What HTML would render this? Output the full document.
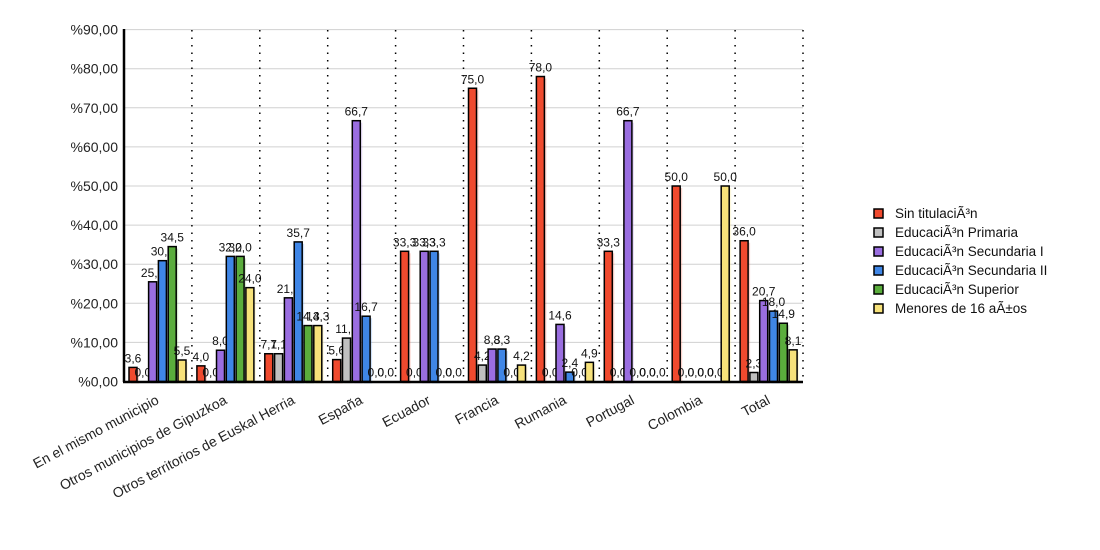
<!DOCTYPE html>
<html><head><meta charset="utf-8"><style>
html,body{margin:0;padding:0;background:#fff;}
svg{display:block;font-family:"Liberation Sans",Arial,sans-serif;}
</style></head><body>
<svg id="c" width="1100" height="550" viewBox="0 0 1100 550" xmlns="http://www.w3.org/2000/svg"></svg>
<script>
var s=document.getElementById('c'),h='';
function Y(v){return 381.5-v*3.91;}
for(var i=0;i<=9;i++){var y=Y(i*10);
 h+='<line x1="124" x2="803" y1="'+y+'" y2="'+y+'" stroke="#d0d0d0" stroke-width="1"/>';
 h+='<text x="118" y="'+(y+5)+'" text-anchor="end" font-size="14" fill="#222">%'+(i*10)+',00</text>';}
var names=["En el mismo municipio","Otros municipios de Gipuzkoa","Otros territorios de Euskal Herria","España","Ecuador","Francia","Rumania","Portugal","Colombia","Total"];
var d=[[3.6,0,25.5,30.9,34.5,5.5],[4.0,0,8.0,32.0,32.0,24.0],[7.1,7.1,21.4,35.7,14.3,14.3],[5.6,11.1,66.7,16.7,0,0],[33.3,0,33.3,33.3,0,0],[75.0,4.2,8.3,8.3,0,4.2],[78.0,0,14.6,2.4,0,4.9],[33.3,0,66.7,0,0,0],[50.0,0,0,0,0,50.0],[36.0,2.3,20.7,18.0,14.9,8.1]];
var col=["#f04a2e","#c0c0c0","#9a6ee0","#3f86e6","#5aad3c","#f7e27a"];
var gw=67.9;
for(var g=0;g<10;g++){var gs=124+g*gw;
 var dx=(gs+gw).toFixed(1);
 h+='<line x1="'+dx+'" x2="'+dx+'" y1="30" y2="381" stroke="#000" stroke-width="1.5" stroke-dasharray="1.5,6"/>';
 for(var k=0;k<6;k++){var v=d[g][k],x=gs+5+k*9.8;
  if(v>0){var y=Y(v);
   h+='<rect x="'+(x+2)+'" y="'+(y+2)+'" width="8" height="'+(381.5-y)+'" fill="'+col[k]+'" opacity="0.25"/>';
   h+='<rect x="'+x+'" y="'+y+'" width="8" height="'+(381.5-y)+'" fill="'+col[k]+'" stroke="#000" stroke-width="1.5"/>';}
  h+='<text x="'+(x+4)+'" y="'+(Y(v)-5)+'" text-anchor="middle" font-size="12" fill="#111">'+v.toFixed(1).replace('.',',')+'</text>';}
 var cx=gs+gw/2+2;
 h+='<text transform="translate('+cx+',403) rotate(-28)" text-anchor="end" font-size="14" fill="#222">'+names[g]+'</text>';}
h+='<line x1="124" x2="124" y1="29" y2="382" stroke="#000" stroke-width="2.5"/>';
h+='<line x1="123" x2="803" y1="382" y2="382" stroke="#000" stroke-width="2.5"/>';
var lg=["Sin titulaciÃ³n","EducaciÃ³n Primaria","EducaciÃ³n Secundaria I","EducaciÃ³n Secundaria II","EducaciÃ³n Superior","Menores de 16 aÃ±os"];
for(var k=0;k<6;k++){var y=208+k*19;
 h+='<rect x="874" y="'+(y+1)+'" width="9" height="9" fill="'+col[k]+'" stroke="#000" stroke-width="1.5"/>';
 h+='<text x="895" y="'+(y+10)+'" font-size="13.5" fill="#111">'+lg[k]+'</text>';}
s.innerHTML=h;
</script>
</body></html>
